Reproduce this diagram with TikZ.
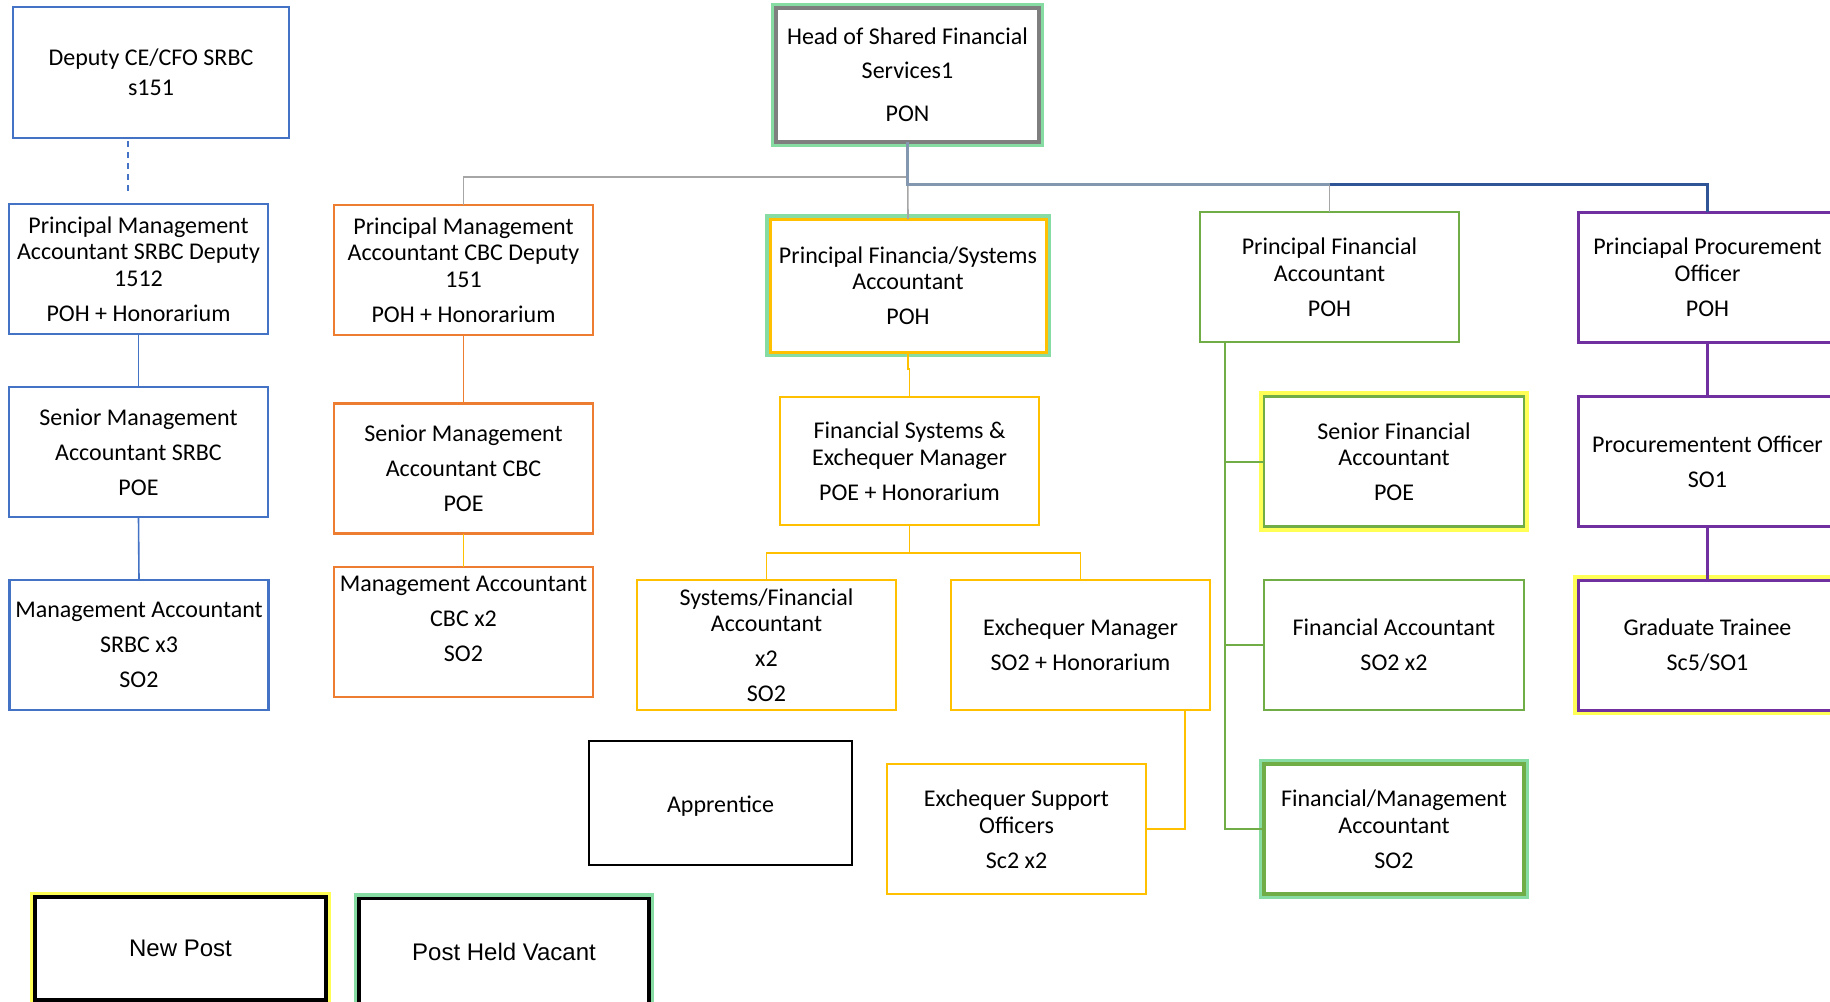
\documentclass[tikz,border=0pt]{standalone}
\usepackage{fontspec}
\setmainfont{Carlito}
\newfontfamily\arialf{Liberation Sans}
\usetikzlibrary{calc}
\definecolor{cblue}{HTML}{4472C4}
\definecolor{corange}{HTML}{ED7D31}
\definecolor{cgold}{HTML}{FFC000}
\definecolor{cgreen}{HTML}{70AD47}
\definecolor{cpurple}{HTML}{7030A0}
\definecolor{cgrey}{HTML}{7F7F7F}
\definecolor{clgrey}{HTML}{A6A6A6}
\definecolor{cgb}{HTML}{8497B0}
\definecolor{cdblue}{HTML}{2F5597}
\definecolor{glowgreen}{HTML}{86DCA2}
\definecolor{glowyellow}{HTML}{FFFF55}
\newcommand{\pg}{\\[8.5pt]}
\tikzset{
  box/.style={draw, fill=white, line width=2.6pt, inner sep=0pt, outer sep=0pt,
    align=center, font=\fontsize{24}{26.5}\selectfont,
    minimum width=259pt, minimum height=130pt},
  bluebox/.style={box, draw=cblue},
  orangebox/.style={box, draw=corange},
  goldbox/.style={box, draw=cgold},
  greenbox/.style={box, draw=cgreen},
  purplebox/.style={box, draw=cpurple},
  glowg/.style={preaction={draw=glowgreen, line width=10.5pt}},
  glowy/.style={preaction={draw=glowyellow, line width=10.5pt}},
  conn/.style={line width=1.6pt},
}
\begin{document}
\begin{tikzpicture}[x=1pt, y=-1pt]
\useasboundingbox (0,0) rectangle (1830,1001);
\clip (0,0) rectangle (1830,1001);
\fill[white] (0,0) rectangle (1830,1001);

% left blue column
\node[bluebox, minimum width=276pt, minimum height=131pt] (dep) at (151,72.5) {Deputy CE/CFO SRBC\\[3.5pt]s151};
\node[bluebox] (pmas) at (138.5,269) {Principal Management\\Accountant SRBC Deputy\\1512\pg POH + Honorarium};
\node[bluebox] (smas) at (138.5,452) {Senior Management\pg Accountant SRBC\pg POE};
\node[bluebox] (mas) at (139,645) {Management Accountant\pg SRBC x3\pg SO2};

% orange column
\node[orangebox] (pmac) at (463.5,270) {Principal Management\\Accountant CBC Deputy\\151\pg POH + Honorarium};
\node[orangebox] (smac) at (463.5,468.5) {Senior Management\pg Accountant CBC\pg POE};
\node[orangebox] (mac) at (463.5,632) {Management Accountant\pg CBC x2\pg SO2\rule[-26pt]{0pt}{26pt}};

% head
\node[box, draw=cgrey, line width=3.6pt, glowg, minimum width=263pt, minimum height=134pt] (head) at (907.5,75) {Head of Shared Financial\\[7.5pt]Services1\\[16.5pt]PON};

% gold column
\node[goldbox, glowg, line width=3pt, minimum width=276pt, minimum height=133pt] (pfsa) at (908,285.5) {Principal Financia/Systems\\Accountant\pg POH};
\node[goldbox, minimum height=128pt] (fsem) at (909.5,461) {Financial Systems \&\\Exchequer Manager\pg POE + Honorarium};
\node[goldbox] (sfa) at (766.5,645) {Systems/Financial\\Accountant\pg x2\pg SO2};
\node[goldbox] (em) at (1080.5,645) {Exchequer Manager\pg SO2 + Honorarium};
\node[goldbox] (eso) at (1016.5,829) {Exchequer Support\\Officers\pg Sc2 x2};
\node[box, draw=black, line width=2.8pt, minimum width=263pt, minimum height=124pt] (app) at (720.5,803) {\rule{0pt}{22pt}Apprentice};

% green column
\node[greenbox] (pfa) at (1329.5,277) {Principal Financial\\Accountant\pg POH};
\node[greenbox, glowy, minimum width=260pt] (senfa) at (1394,461.5) {Senior Financial\\Accountant\pg POE};
\node[greenbox, minimum width=260pt] (fa) at (1394,645) {Financial Accountant\pg SO2 x2};
\node[greenbox, glowg, line width=3.4pt, minimum width=260pt] (fma) at (1394,829) {Financial/Management\\Accountant\pg SO2};

% purple column
\node[purplebox, line width=3pt] (ppo) at (1707.5,277) {Princiapal Procurement\\Officer\pg POH};
\node[purplebox, line width=3pt] (po) at (1707.5,461.5) {Procurementent Officer\pg SO1};
\node[purplebox, line width=3pt, glowy] (gt) at (1707.5,645) {Graduate Trainee\pg Sc5/SO1};

% legend
\node[box, draw=black, line width=3.2pt, glowy, minimum width=291pt, minimum height=103pt, font=\arialf\fontsize{24}{28}\selectfont] (newp) at (180.5,948.5) {New Post};
\node[box, draw=black, line width=3.2pt, glowg, minimum width=290pt, minimum height=106pt, font=\arialf\fontsize{24}{28}\selectfont] (phv) at (504,951.5) {Post Held Vacant};

% connectors: left blue
\draw[cblue, line width=1.6pt, dash pattern=on 6pt off 5pt] ([xshift=-23pt,yshift=-3pt]dep.south) -- ([xshift=-10.5pt,yshift=11pt]pmas.north);
\draw[cblue, conn] (pmas.south) -- (smas.north);
\draw[cblue, conn] (smas.south) -- (mas.north);
% orange
\draw[corange, conn] (pmac.south) -- (smac.north);
\draw[cgold, conn] (smac.south) -- (mac.north);
% from head
\draw[clgrey, conn] (head.south) -- (head.south |- 0,177) -| (pmac.north);
\draw[clgrey, conn] (head.south) -- (pfsa.north);
\coordinate (pfatop) at (pfa.north |- 0,184.5);
\draw[cgb, line width=3.2pt] (head.south) |- (pfatop);
\draw[cdblue, line width=3.2pt] (pfatop) -| (ppo.north);
\draw[clgrey, conn] (pfatop) -- (pfa.north);
% gold
\draw[cgold, conn] (pfsa.south) -- ++(0,17) -| (fsem.north);
\coordinate (fsemj) at (fsem.south |- 0,553);
\draw[cgold, conn] (fsem.south) -- (fsemj);
\draw[cgold, conn] (sfa.north) |- (fsemj) -| (em.north);
\draw[cgold, conn] ([xshift=104.5pt]em.south) |- (eso.east);
% green
\coordinate (gx) at ([xshift=-104.5pt]pfa.south);
\draw[cgreen, line width=2pt] (gx) |- (fma.west);
\draw[cgreen, line width=2pt] (senfa.west) -- (senfa.west -| gx);
\draw[cgreen, line width=2pt] (fa.west) -- (fa.west -| gx);
% purple
\draw[cpurple, line width=3pt] (ppo.south) -- (po.north);
\draw[cpurple, line width=3pt] (po.south) -- (gt.north);
\end{tikzpicture}
\end{document}
